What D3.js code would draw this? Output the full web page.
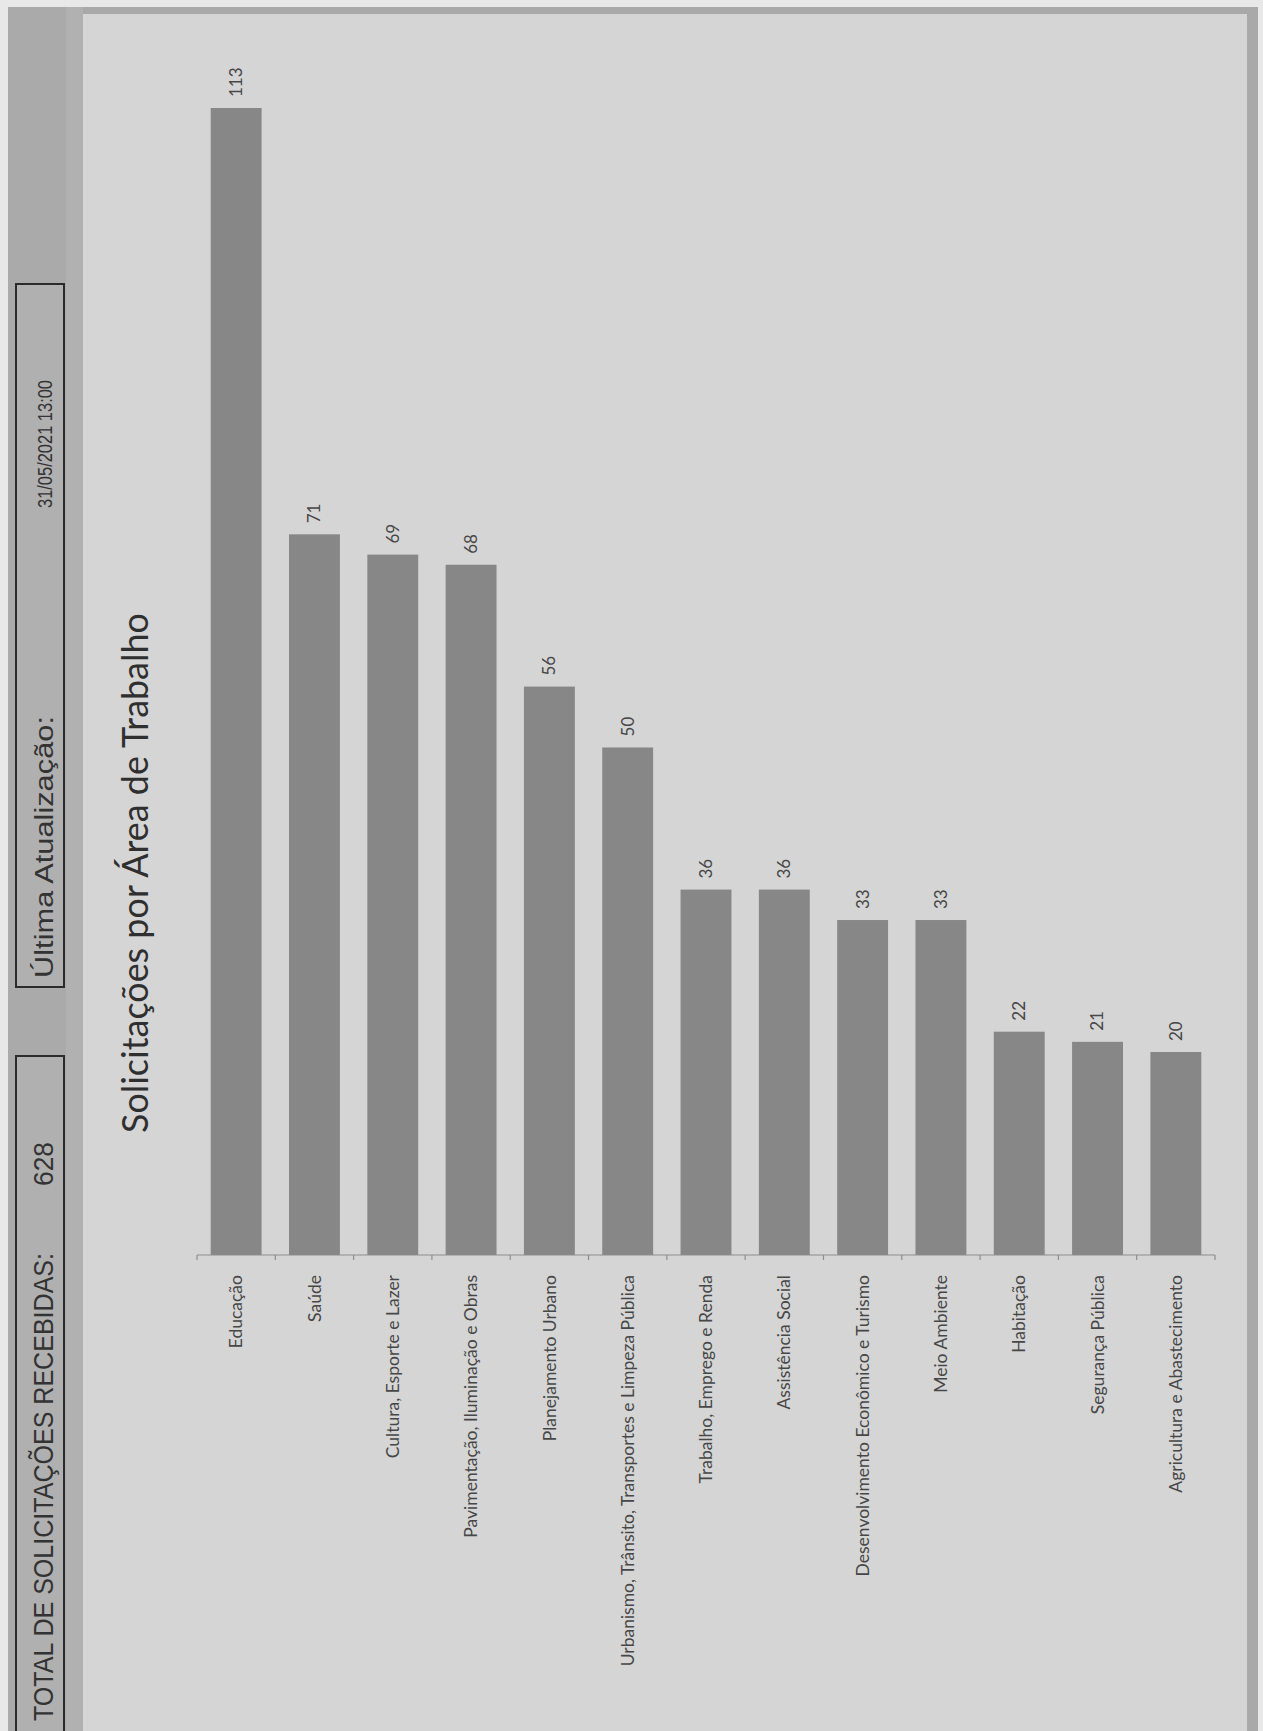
<!DOCTYPE html>
<html>
<head>
<meta charset="utf-8">
<script src="https://cdn.jsdelivr.net/npm/d3@7"></script>
<style>
  body { margin: 0; background: #e8e8e8; }
  svg { display: block; }
</style>
</head>
<body>
<svg id="chart" width="1263" height="1731"></svg>
<script>
// ---- data ----
const categories = [
  "Educação",
  "Saúde",
  "Cultura, Esporte e Lazer",
  "Pavimentação, Iluminação e Obras",
  "Planejamento Urbano",
  "Urbanismo, Trânsito, Transportes e Limpeza Pública",
  "Trabalho, Emprego e Renda",
  "Assistência Social",
  "Desenvolvimento Econômico e Turismo",
  "Meio Ambiente",
  "Habitação",
  "Segurança Pública",
  "Agricultura e Abastecimento"
];
const values = [113, 71, 69, 68, 56, 50, 36, 36, 33, 33, 22, 21, 20];
const chartTitle = "Solicitações por Área de Trabalho";
const totalLabel = "TOTAL DE SOLICITAÇÕES RECEBIDAS:";
const totalValue = "628";
const updateLabel = "Última Atualização:";
const updateValue = "31/05/2021 13:00";

// ---- layout ----
const svg = d3.select("#chart");
const W = 1263, H = 1731;
const baseY = 1255;

svg.append("rect").attr("x", 0).attr("y", 0).attr("width", W).attr("height", H).attr("fill", "#e8e8e8");

// header strip (left)
svg.append("rect").attr("x", 8).attr("y", 7).attr("width", 75).attr("height", H - 7).attr("fill", "#aaaaaa");
svg.append("rect").attr("x", 66).attr("y", 7).attr("width", 17).attr("height", H - 7).attr("fill", "#b1b1b1");

// chart panel
svg.append("rect").attr("x", 83).attr("y", 7).attr("width", 1175).attr("height", H - 7).attr("fill", "#a9a9a9");
svg.append("rect").attr("x", 83).attr("y", 14).attr("width", 1164).attr("height", H - 14).attr("fill", "#d5d5d5");

// header boxes
const boxes = [
  { y0: 284, y1: 987 },
  { y0: 1056, y1: H + 10 }
];
svg.selectAll("rect.hbox").data(boxes).enter().append("rect")
  .attr("class", "hbox")
  .attr("x", 16).attr("y", d => d.y0)
  .attr("width", 48).attr("height", d => d.y1 - d.y0)
  .attr("fill", "#b0b0b0").attr("stroke", "#2b2b2b").attr("stroke-width", 2);

const headerFont = "'Liberation Sans Narrow', 'Arial Narrow', 'Liberation Sans', sans-serif";
function vText(x, y, str, opts) {
  const t = svg.append("text")
    .attr("transform", `translate(${x},${y}) rotate(-90)`)
    .attr("text-anchor", opts.anchor || "start")
    .attr("font-family", opts.family || headerFont)
    .attr("font-size", opts.size)
    .attr("fill", opts.fill || "#333")
    .text(str);
  if (opts.len) t.attr("textLength", opts.len).attr("lengthAdjust", "spacingAndGlyphs");
  if (opts.dy) t.attr("dy", opts.dy);
  if (opts.weight) t.attr("font-weight", opts.weight);
  return t;
}

vText(53, 1721, totalLabel, { size: 28, len: 468 });
vText(53, 1186, totalValue, { size: 28, len: 44 });
vText(53, 978, updateLabel, { size: 26, len: 262 });
vText(52, 508, updateValue, { size: 20, len: 128 });

// ---- scales ----
const x = d3.scaleBand()
  .domain(categories)
  .range([197, 1215])
  .paddingInner(0.35)
  .paddingOuter(0.175);

const y = d3.scaleLinear()
  .domain([0, 113])
  .range([baseY, 108]);

// bars
svg.append("g").selectAll("rect").data(categories).enter().append("rect")
  .attr("x", d => x(d))
  .attr("y", (d, i) => y(values[i]))
  .attr("width", x.bandwidth())
  .attr("height", (d, i) => y(0) - y(values[i]))
  .attr("fill", "#878787");

// axis line + boundary ticks
const step = x.step();
const half = step * x.paddingInner() / 2;
const bounds = categories.map(c => x(c) - half).concat([x(categories[categories.length - 1]) + x.bandwidth() + half]);
const axis = svg.append("g").attr("stroke", "#8e8e8e").attr("stroke-width", 1.2);
axis.append("line").attr("x1", bounds[0]).attr("x2", bounds[bounds.length - 1]).attr("y1", y(0)).attr("y2", y(0));
axis.selectAll("line.tk").data(bounds).enter().append("line")
  .attr("class", "tk")
  .attr("x1", d => d).attr("x2", d => d)
  .attr("y1", y(0)).attr("y2", y(0) + 5);

// category labels
const labelFont = "Lato, 'Open Sans', sans-serif";
svg.append("g").selectAll("text").data(categories).enter().append("text")
  .attr("transform", d => `translate(${x(d) + x.bandwidth() / 2},${y(0) + 20}) rotate(-90)`)
  .attr("text-anchor", "end")
  .attr("dy", "0.35em")
  .attr("font-family", labelFont)
  .attr("font-size", 17.5)
  .attr("fill", "#474747")
  .text(d => d);

// value labels
svg.append("g").selectAll("text").data(categories).enter().append("text")
  .attr("transform", (d, i) => `translate(${x(d) + x.bandwidth() / 2},${y(values[i]) - 11}) rotate(-90)`)
  .attr("text-anchor", "start")
  .attr("dy", "0.35em")
  .attr("font-family", labelFont)
  .attr("font-size", 17)
  .attr("fill", "#474747")
  .text((d, i) => values[i]);

// title (fit to measured length)
const title = vText(148, 1133, chartTitle, { size: 30, family: labelFont, fill: "#2f2f2f" });
const tl = title.node().getComputedTextLength();
title.attr("font-size", 30 * 520 / tl);
</script>
</body>
</html>
